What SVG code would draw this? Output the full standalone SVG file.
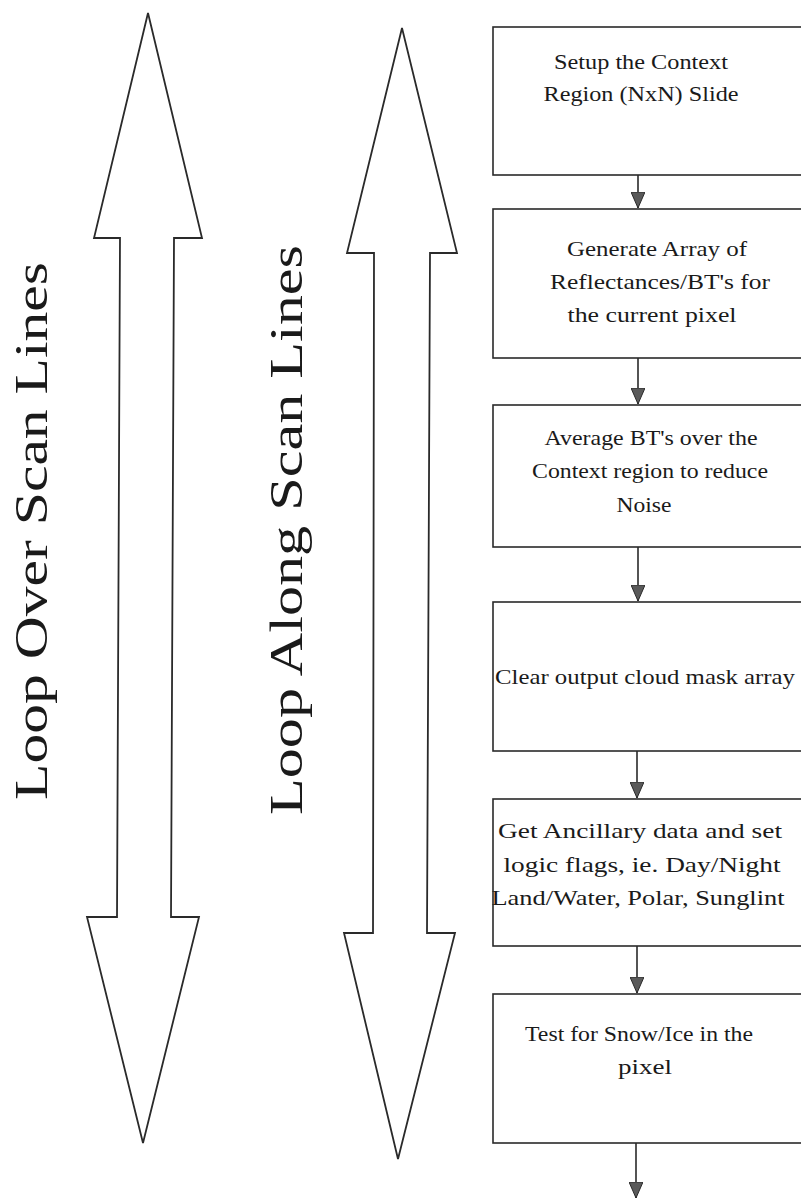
<svg xmlns="http://www.w3.org/2000/svg" width="801" height="1199" viewBox="0 0 801 1199">
  <defs>
    <style>
      .bg { fill: #ffffff; }
      .loop { fill: #ffffff; stroke: #2a2a2a; stroke-width: 1.8; stroke-linejoin: miter; }
      .loop-label { font-family: "Liberation Serif", "Times New Roman", Times, serif; font-size: 47px; fill: #1a1a1a; }
      .box { fill: #ffffff; stroke: #2a2a2a; stroke-width: 1.6; }
      .label { font-family: "Liberation Serif", "Times New Roman", Times, serif; font-size: 22px; fill: #1a1a1a; text-anchor: middle; }
      .flow { stroke: #2a2a2a; stroke-width: 1.6; fill: none; marker-end: url(#head); }
    </style>
    <!-- filled arrowhead, drawn pointing along +x so orient="auto" aims it down the line -->
    <marker id="head" viewBox="0 0 16 14" refX="16" refY="7" markerWidth="16" markerHeight="14" markerUnits="userSpaceOnUse" orient="auto">
      <path d="M0,0 L16,7 L0,14 Z" fill="#5a5a5a" stroke="#2a2a2a" stroke-width="1"/>
    </marker>
  </defs>

  <rect class="bg" x="0" y="0" width="801" height="1199"/>

  <!-- outer loop: double-headed arrow -->
  <g id="loop-over">
    <polygon class="loop" points="148,13 202,238 174,238 171,917 199,917 143,1143 87,917 117,917 120,238 94,238"/>
    <text class="loop-label" transform="translate(47,800) rotate(-90)" textLength="538" lengthAdjust="spacingAndGlyphs">Loop Over Scan Lines</text>
  </g>

  <!-- inner loop: double-headed arrow -->
  <g id="loop-along">
    <polygon class="loop" points="402,28 457,253 430,253 427,933 455,933 398,1159 344,933 373,933 374,253 347,253"/>
    <text class="loop-label" transform="translate(302,815) rotate(-90)" textLength="570" lengthAdjust="spacingAndGlyphs">Loop Along Scan Lines</text>
  </g>

  <!-- processing steps -->
  <g id="setup-context">
    <rect class="box" x="493" y="27" width="330" height="148"/>
    <text class="label" x="641" y="69" textLength="174" lengthAdjust="spacingAndGlyphs">Setup the Context</text>
    <text class="label" x="641" y="101" textLength="195" lengthAdjust="spacingAndGlyphs">Region (NxN) Slide</text>
  </g>

  <g id="generate-array">
    <rect class="box" x="493" y="209" width="330" height="149"/>
    <text class="label" x="657" y="256" textLength="180" lengthAdjust="spacingAndGlyphs">Generate Array of</text>
    <text class="label" x="660" y="289" textLength="220" lengthAdjust="spacingAndGlyphs">Reflectances/BT's for</text>
    <text class="label" x="652" y="322" textLength="169" lengthAdjust="spacingAndGlyphs">the current pixel</text>
  </g>

  <g id="average-bt">
    <rect class="box" x="493" y="405" width="330" height="142"/>
    <text class="label" x="651" y="445" textLength="213" lengthAdjust="spacingAndGlyphs">Average BT's over the</text>
    <text class="label" x="650" y="478" textLength="236" lengthAdjust="spacingAndGlyphs">Context region to reduce</text>
    <text class="label" x="644" y="512" textLength="55" lengthAdjust="spacingAndGlyphs">Noise</text>
  </g>

  <g id="clear-mask">
    <rect class="box" x="493" y="602" width="330" height="149"/>
    <text class="label" x="645" y="684" textLength="300" lengthAdjust="spacingAndGlyphs">Clear output cloud mask array</text>
  </g>

  <g id="ancillary-data">
    <rect class="box" x="493" y="799" width="330" height="147"/>
    <text class="label" x="640" y="838" textLength="284" lengthAdjust="spacingAndGlyphs">Get Ancillary data and set</text>
    <text class="label" x="642" y="872" textLength="277" lengthAdjust="spacingAndGlyphs">logic flags, ie. Day/Night</text>
    <text class="label" x="638" y="905" textLength="293" lengthAdjust="spacingAndGlyphs">Land/Water, Polar, Sunglint</text>
  </g>

  <g id="snow-ice">
    <rect class="box" x="493" y="994" width="330" height="149"/>
    <text class="label" x="639" y="1041" textLength="228" lengthAdjust="spacingAndGlyphs">Test for Snow/Ice in the</text>
    <text class="label" x="645" y="1074" textLength="54" lengthAdjust="spacingAndGlyphs">pixel</text>
  </g>

  <!-- step connectors -->
  <g id="connectors">
    <line class="flow" x1="638" y1="175" x2="638" y2="208"/>
    <line class="flow" x1="638" y1="358" x2="638" y2="404"/>
    <line class="flow" x1="638" y1="547" x2="638" y2="601"/>
    <line class="flow" x1="637" y1="751" x2="637" y2="798"/>
    <line class="flow" x1="637" y1="946" x2="637" y2="993"/>
    <line class="flow" x1="636" y1="1143" x2="636" y2="1198"/>
  </g>
</svg>
